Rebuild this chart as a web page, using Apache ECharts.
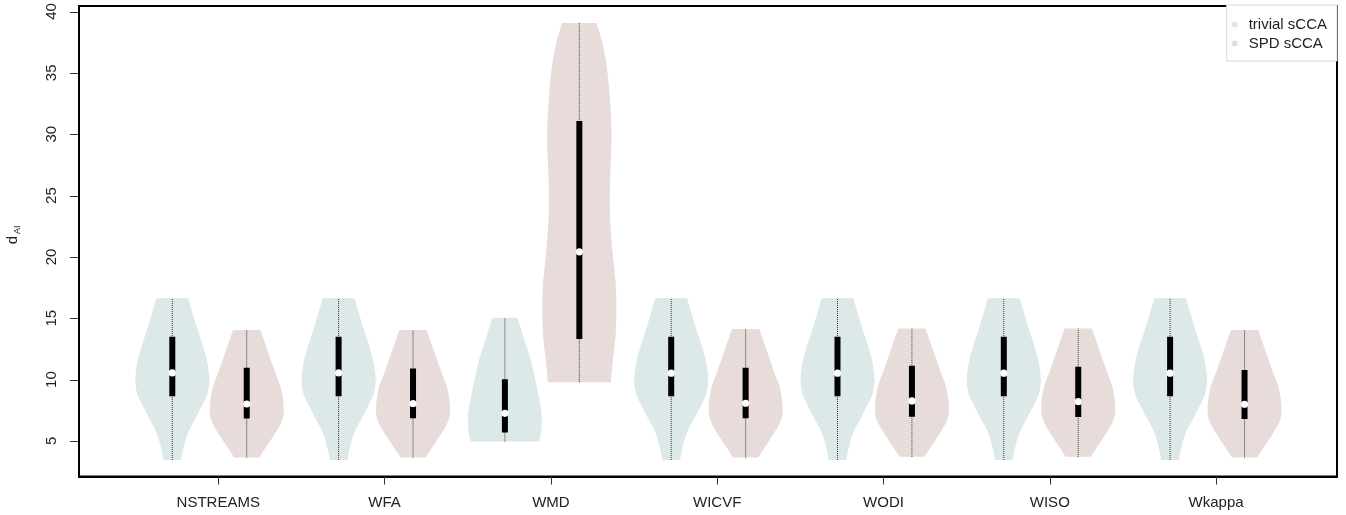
<!DOCTYPE html>
<html>
<head>
<meta charset="utf-8">
<script src="https://cdn.jsdelivr.net/npm/echarts@6/dist/echarts.min.js"></script>
<style>
  html, body { margin: 0; padding: 0; background: #fff; }
  #chart { width: 1346px; height: 515px; }
</style>
</head>
<body>
<div id="chart"></div>
<script>
// ---- data ----
const categories = ['NSTREAMS', 'WFA', 'WMD', 'WICVF', 'WODI', 'WISO', 'Wkappa'];
const yTicks = [5, 10, 15, 20, 25, 30, 35, 40];
const seriesNames = ['trivial sCCA', 'SPD sCCA'];

const trivialMin    = [3.45, 3.45, 4.95, 3.45, 3.45, 3.45, 3.45];
const trivialQ1     = [8.65, 8.65, 5.68, 8.65, 8.65, 8.65, 8.65];
const trivialMedian = [10.54, 10.54, 7.25, 10.52, 10.52, 10.52, 10.52];
const trivialQ3     = [13.49, 13.49, 10.02, 13.49, 13.49, 13.49, 13.49];
const trivialMax    = [16.62, 16.62, 15.04, 16.62, 16.62, 16.62, 16.62];
const trivialShape  = ['a', 'a', 'b', 'a', 'a', 'a', 'a'];

const spdMin    = [3.64, 3.64, 9.78, 3.64, 3.70, 3.70, 3.64];
const spdQ1     = [6.82, 6.85, 13.31, 6.85, 6.98, 6.95, 6.79];
const spdMedian = [8.01, 8.05, 20.41, 8.07, 8.26, 8.20, 7.99];
const spdQ3     = [10.97, 10.90, 31.08, 10.97, 11.13, 11.05, 10.78];
const spdMax    = [14.04, 14.04, 39.06, 14.12, 14.17, 14.17, 14.04];
const spdShape  = ['c', 'c', 'd', 'c', 'c', 'c', 'c'];

// violin outlines: relative position between min and max, relative half-width
const shapeA_T = [0, 0.062, 0.165, 0.268, 0.371, 0.42, 0.495, 0.598, 0.68, 0.845, 1];
const shapeA_W = [0.24, 0.29, 0.42, 0.65, 0.88, 0.96, 1.0, 0.95, 0.86, 0.63, 0.43];
const shapeB_T = [0, 0.042, 0.15, 0.256, 0.443, 0.658, 0.844, 1];
const shapeB_W = [0.93, 0.96, 1.0, 0.98, 0.86, 0.70, 0.50, 0.34];
const shapeC_T = [0, 0.046, 0.15, 0.28, 0.383, 0.539, 0.668, 0.85, 1];
const shapeC_W = [0.34, 0.44, 0.68, 0.94, 1.0, 0.93, 0.77, 0.55, 0.37];
const shapeD_T = [0, 0.0557, 0.13, 0.204, 0.278, 0.371, 0.463, 0.556, 0.695, 0.834, 0.927, 1];
const shapeD_W = [0.85, 0.90, 0.98, 1.0, 0.98, 0.89, 0.83, 0.83, 0.87, 0.79, 0.66, 0.47];

// ---- layout / style ----
const shapes = { a: [shapeA_T, shapeA_W], b: [shapeB_T, shapeB_W], c: [shapeC_T, shapeC_W], d: [shapeD_T, shapeD_W] };
const seriesOffset = [-0.2766, 0.171];
const maxHalfWidth = 0.2225;
const xMin = -0.8376, xMax = 6.727;
const colors = ['#dce9e8', '#e8dcdb'];
const FONT = '"Liberation Sans", Arial, Helvetica, sans-serif';

function catmull(pts, steps) {
  const out = [];
  const n = pts.length;
  for (let i = 0; i < n - 1; i++) {
    const p0 = pts[Math.max(0, i - 1)], p1 = pts[i], p2 = pts[i + 1], p3 = pts[Math.min(n - 1, i + 2)];
    for (let s = 0; s < steps; s++) {
      const t = s / steps, t2 = t * t, t3 = t2 * t;
      const f = (a, b, c, d) => 0.5 * ((2 * b) + (-a + c) * t + (2 * a - 5 * b + 4 * c - d) * t2 + (-a + 3 * b - 3 * c + d) * t3);
      out.push([f(p0[0], p1[0], p2[0], p3[0]), f(p0[1], p1[1], p2[1], p3[1])]);
    }
  }
  out.push(pts[n - 1]);
  return out;
}

function makeRender(sIdx) {
  return function (params, api) {
    const ci = api.value(0);
    const vmin = api.value(1), q1 = api.value(2), med = api.value(3), q3 = api.value(4), vmax = api.value(5);
    const shapeKey = (sIdx === 0 ? trivialShape : spdShape)[params.dataIndex];
    const [T, W] = shapes[shapeKey];
    const xc = ci + seriesOffset[sIdx];
    const pxPerUnit = api.size([1, 0])[0];
    const hw = maxHalfWidth * pxPerUnit;
    const right = [], left = [];
    for (let k = 0; k < T.length; k++) {
      const v = vmin + T[k] * (vmax - vmin);
      const c = api.coord([xc, v]);
      right.push([c[0] + W[k] * hw, c[1]]);
      left.push([c[0] - W[k] * hw, c[1]]);
    }
    const r = catmull(right, 10);
    const l = catmull(left, 10).reverse();
    const poly = r.concat(l);
    const pMin = api.coord([xc, vmin]), pMax = api.coord([xc, vmax]);
    const pQ1 = api.coord([xc, q1]), pQ3 = api.coord([xc, q3]), pMed = api.coord([xc, med]);
    const bw = 6;
    return {
      type: 'group',
      children: [
        { type: 'polygon', shape: { points: poly }, style: { fill: colors[sIdx], stroke: null } },
        { type: 'line', shape: { x1: pMin[0], y1: pMin[1], x2: pMax[0], y2: pMax[1] },
          style: { stroke: '#333', lineWidth: 1, lineDash: [1, 1] } },
        { type: 'rect', shape: { x: pQ3[0] - bw / 2, y: pQ3[1], width: bw, height: pQ1[1] - pQ3[1] },
          style: { fill: '#000' } },
        { type: 'circle', shape: { cx: pMed[0], cy: pMed[1], r: 3.6 }, style: { fill: '#fff' } }
      ]
    };
  };
}

// y-axis tick marks (outside the frame), placed through the axis scale
function renderYTick(params, api) {
  const p = api.coord([api.value(0), api.value(1)]);
  const y = Math.round(p[1]) + 0.5;
  return {
    type: 'rect',
    shape: { x: p[0] - 9, y: y - 0.5, width: 8, height: 1 },
    style: { fill: '#333' }
  };
}

const trivialData = categories.map((c, i) => [i, trivialMin[i], trivialQ1[i], trivialMedian[i], trivialQ3[i], trivialMax[i]]);
const spdData = categories.map((c, i) => [i, spdMin[i], spdQ1[i], spdMedian[i], spdQ3[i], spdMax[i]]);
const tickData = yTicks.map(v => [xMin, v]);

const chart = echarts.init(document.getElementById('chart'), null, { renderer: 'canvas' });
chart.setOption({
  animation: false,
  backgroundColor: '#fff',
  textStyle: { fontFamily: FONT },
  grid: { left: 79, right: 9, top: 6, bottom: 38.5, show: true, borderColor: '#000', borderWidth: 2, backgroundColor: 'transparent' },
  legend: {
    data: seriesNames.map(n => ({ name: n, icon: 'circle' })),
    orient: 'vertical',
    right: 9, top: 5,
    itemWidth: 18, itemHeight: 6, itemGap: 4,
    padding: [12, 10, 10, 5],
    backgroundColor: '#fff',
    borderColor: '#d9d9d9', borderWidth: 1, borderRadius: 0,
    textStyle: { fontFamily: FONT, fontSize: 15, color: '#222', lineHeight: 14 },
    selectedMode: false
  },
  xAxis: {
    type: 'value',
    min: xMin, max: xMax,
    splitLine: { show: false },
    axisLine: { show: true, onZero: false, lineStyle: { color: '#000', width: 2 } },
    axisTick: { show: true, length: 8, lineStyle: { color: '#333', width: 1 }, customValues: categories.map((c, i) => i) },
    axisLabel: { customValues: categories.map((c, i) => i), formatter: v => categories[Math.round(v)] || '',
      fontFamily: FONT, fontSize: 15, color: '#222', margin: 19, hideOverlap: false }
  },
  yAxis: {
    type: 'value',
    min: 2.1, max: 40.45,
    splitLine: { show: false },
    axisLine: { show: true, onZero: false, lineStyle: { color: '#000', width: 2 } },
    axisTick: { show: false, customValues: yTicks },
    axisLabel: { customValues: yTicks, rotate: 90, fontFamily: FONT, fontSize: 15, color: '#222', margin: 20 }
  },
  graphic: [
    { type: 'text', x: 20, y: 240, rotation: Math.PI / 2, z: 10,
      style: { text: 'd', font: '15px ' + FONT, fill: '#222', align: 'center', verticalAlign: 'bottom' } },
    { type: 'text', x: 22.5, y: 234, rotation: Math.PI / 2, z: 10,
      style: { text: 'AI', font: '9px ' + FONT, fill: '#222', align: 'left', verticalAlign: 'bottom' } }
  ],
  series: [
    { name: seriesNames[0], type: 'custom', renderItem: makeRender(0), data: trivialData,
      itemStyle: { color: colors[0] }, encode: { x: 0, y: [1, 5] }, clip: true },
    { name: seriesNames[1], type: 'custom', renderItem: makeRender(1), data: spdData,
      itemStyle: { color: colors[1] }, encode: { x: 0, y: [1, 5] }, clip: true },
    { name: 'yTicks', type: 'custom', renderItem: renderYTick, data: tickData,
      encode: { x: 0, y: 1 }, clip: false, silent: true, z: 5 }
  ]
});
</script>
</body>
</html>
